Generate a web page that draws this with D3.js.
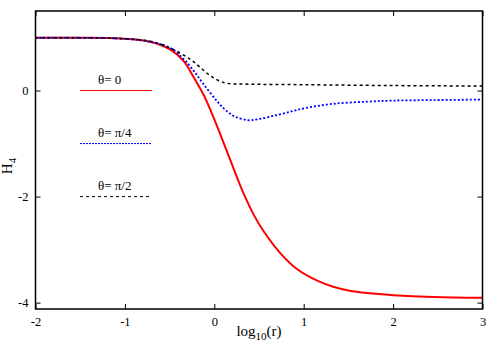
<!DOCTYPE html>
<html>
<head>
<meta charset="utf-8">
<script src="https://cdn.jsdelivr.net/npm/d3@7"></script>
<style>
  body { margin: 0; background: #fff; }
  text { font-family: "Liberation Serif", "DejaVu Serif", serif; fill: #000; }
</style>
</head>
<body>
<svg id="chart" width="500" height="350"></svg>
<script>
const xTicks = [-2, -1, 0, 1, 2, 3];
const yTicks = [0, -2, -4];

// theta = 0
const redX = [-2, -1.5, -1.05, -0.72, -0.49, -0.34, -0.23, -0.12, -0.03, 0.066, 0.215, 0.33, 0.44, 0.55, 0.74, 0.92, 1.17, 1.33, 1.5, 1.71, 2.0, 2.45, 3];
const redY = [0.995, 0.995, 0.98, 0.92, 0.77, 0.55, 0.25, -0.08, -0.42, -0.82, -1.47, -1.95, -2.34, -2.65, -3.07, -3.36, -3.60, -3.70, -3.77, -3.82, -3.86, -3.895, -3.91];

// theta = pi/4
const blueX = [-2, -1.5, -1.05, -0.72, -0.49, -0.34, -0.23, -0.12, 0.03, 0.12, 0.23, 0.38, 0.49, 0.68, 0.87, 1.02, 1.33, 1.71, 2.0, 2.45, 3];
const blueY = [0.995, 0.995, 0.98, 0.92, 0.80, 0.59, 0.37, 0.12, -0.20, -0.36, -0.49, -0.56, -0.54, -0.47, -0.39, -0.33, -0.25, -0.21, -0.19, -0.18, -0.17];

// theta = pi/2
const blackX = [-2, -1.5, -1.05, -0.72, -0.49, -0.27, -0.16, -0.045, 0.066, 0.15, 0.4, 1.0, 2.0, 3];
const blackY = [0.995, 0.995, 0.98, 0.93, 0.80, 0.59, 0.44, 0.28, 0.175, 0.135, 0.12, 0.11, 0.094, 0.085];

const series = [
  { label: "θ= 0", xs: redX, ys: redY, color: "#ff0000", width: 2, dash: null, legDash: null },
  { label: "θ= π/4", xs: blueX, ys: blueY, color: "#0000ff", width: 1.8, dash: "2,2", legDash: "2,1" },
  { label: "θ= π/2", xs: blackX, ys: blackY, color: "#000000", width: 1.5, dash: "3,3", legDash: "3,3" }
];

const margin = { top: 11, left: 35.5 };
const width = 447;
const height = 298;

const svg = d3.select("#chart");
const g = svg.append("g").attr("transform", `translate(${margin.left},${margin.top})`);

const xScale = d3.scaleLinear().domain([-2, 3]).range([0, width]);
const yScale = d3.scaleLinear().domain([-4.12, 1.5]).range([height, 0]);

// curves
const line = d3.line()
  .x((d) => xScale(d[0]))
  .y((d) => yScale(d[1]))
  .curve(d3.curveCatmullRom.alpha(0.5));

series.forEach((s) => {
  g.append("path")
    .datum(s.xs.map((x, i) => [x, s.ys[i]]))
    .attr("d", line)
    .attr("fill", "none")
    .attr("stroke", s.color)
    .attr("stroke-width", s.width)
    .attr("stroke-dasharray", s.dash);
});

// axes: ticks pointing inward on all four sides
const tickLen = 5;
g.append("g")
  .attr("transform", `translate(0,${height})`)
  .call(d3.axisBottom(xScale).tickValues(xTicks).tickSizeInner(-tickLen).tickSizeOuter(0).tickPadding(8).tickFormat(d3.format("d")));
g.append("g")
  .call(d3.axisTop(xScale).tickValues(xTicks).tickSizeInner(-tickLen).tickSizeOuter(0).tickFormat(""));
g.append("g")
  .call(d3.axisLeft(yScale).tickValues(yTicks).tickSizeInner(-tickLen).tickSizeOuter(0).tickPadding(7).tickFormat(d3.format("d")));
g.append("g")
  .attr("transform", `translate(${width},0)`)
  .call(d3.axisRight(yScale).tickValues(yTicks).tickSizeInner(-tickLen).tickSizeOuter(0).tickFormat(""));

g.selectAll(".domain").remove();
g.selectAll(".tick line").attr("stroke", "#000").attr("stroke-width", 1);
g.selectAll(".tick text")
  .style("font-family", '"Liberation Serif", serif')
  .style("font-size", "12.5px")
  .text(function () { return this.textContent.replace("−", "-"); });

// frame
g.append("rect")
  .attr("width", width)
  .attr("height", height)
  .attr("fill", "none")
  .attr("stroke", "#000")
  .attr("stroke-width", 1.5);

// legend
series.forEach((s, i) => {
  const ly = yScale(-i);
  g.append("line")
    .attr("x1", 80 - margin.left)
    .attr("x2", 152 - margin.left)
    .attr("y1", ly)
    .attr("y2", ly)
    .attr("stroke", s.color)
    .attr("stroke-width", 1)
    .attr("stroke-dasharray", s.legDash);
  g.append("text")
    .attr("x", 98 - margin.left)
    .attr("y", ly - 6.5)
    .style("font-size", "13px")
    .text(s.label);
});

// axis labels
const xl = svg.append("text")
  .attr("x", 259)
  .attr("y", 336)
  .attr("text-anchor", "middle")
  .style("font-size", "15px");
xl.append("tspan").text("log");
xl.append("tspan").attr("dy", 4).style("font-size", "11px").text("10");
xl.append("tspan").attr("dy", -4).text("(r)");

const yl = svg.append("text")
  .attr("transform", "translate(12,166) rotate(-90)")
  .attr("text-anchor", "middle")
  .style("font-size", "15px");
yl.append("tspan").text("H");
yl.append("tspan").attr("dy", 4).style("font-size", "11px").text("4");
</script>
</body>
</html>
